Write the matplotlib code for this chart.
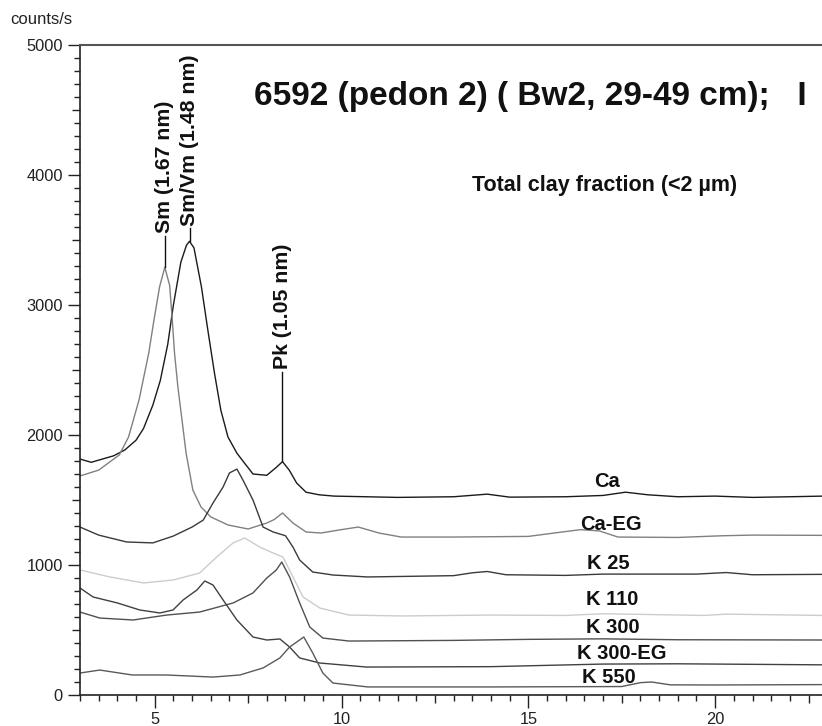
import matplotlib
matplotlib.use("Agg")
import matplotlib.pyplot as plt
from matplotlib.ticker import MultipleLocator, FuncFormatter

# 2-theta (deg) and counts/s, one trace per treatment
x_ca = [3.0, 3.3, 3.6, 3.9, 4.2, 4.5, 4.7, 4.95, 5.15, 5.35, 5.5, 5.7, 5.85, 5.93, 6.05, 6.25,
        6.42, 6.6, 6.77, 6.96, 7.2, 7.4, 7.63, 8.0, 8.25, 8.42, 8.6, 8.8, 9.05, 9.4, 9.8, 11.5,
        13.0, 13.9, 14.5, 16.0, 17.0, 17.6, 18.2, 19.0, 20.0, 21.0, 22.0, 22.9]
y_ca = [1815, 1790, 1815, 1840, 1885, 1960, 2050, 2230, 2420, 2700, 3000, 3330, 3460, 3490, 3440, 3140,
        2810, 2475, 2190, 1985, 1860, 1785, 1700, 1690, 1750, 1795, 1730, 1630, 1560, 1540, 1530, 1520,
        1525, 1545, 1522, 1525, 1535, 1560, 1540, 1525, 1530, 1520, 1525, 1530]

x_caeg = [3.0, 3.5, 4.05, 4.3, 4.58, 4.84, 4.98, 5.13, 5.27, 5.4, 5.47, 5.53, 5.62, 5.73, 5.84, 6.02,
          6.24, 6.5, 6.96, 7.5, 8.0, 8.2, 8.42, 8.7, 9.05, 9.45, 9.95, 10.45, 11.0, 11.6, 13.0, 15.0,
          15.8, 16.4, 16.9, 17.4, 19.0, 20.2, 21.0, 22.9]
y_caeg = [1685, 1730, 1846, 1985, 2270, 2630, 2885, 3140, 3290, 3150, 2885, 2630, 2370, 2115, 1860, 1577,
          1446, 1370, 1308, 1277, 1323, 1350, 1400, 1323, 1254, 1246, 1270, 1292, 1246, 1215, 1215, 1220,
          1250, 1272, 1262, 1215, 1212, 1225, 1230, 1228]

x_k25 = [3.0, 3.5, 4.25, 4.95, 5.5, 6.0, 6.3, 6.56, 6.83, 7.0, 7.2, 7.36, 7.63, 7.9, 8.17, 8.5,
         8.7, 8.88, 9.23, 9.77, 10.7, 13.0, 13.5, 13.9, 14.4, 16.0, 17.0, 19.5, 20.3, 21.0, 22.9]
y_k25 = [1292, 1230, 1177, 1170, 1223, 1292, 1346, 1477, 1600, 1708, 1738, 1654, 1500, 1292, 1254, 1225,
         1138, 1038, 946, 923, 908, 918, 940, 950, 925, 920, 930, 930, 942, 925, 928]

x_k110 = [3.0, 3.8, 4.7, 5.5, 6.2, 6.66, 7.1, 7.41, 7.81, 8.17, 8.43, 8.7, 8.97, 9.42, 10.2, 11.6,
          14.0, 16.0, 17.0, 19.7, 20.3, 22.9]
y_k110 = [962, 908, 862, 885, 938, 1062, 1170, 1208, 1138, 1092, 1062, 908, 754, 669, 615, 608,
          615, 612, 625, 612, 622, 612]

x_k300 = [3.0, 3.53, 4.42, 5.32, 6.2, 7.1, 7.63, 8.0, 8.25, 8.4, 8.61, 8.88, 9.15, 9.5, 10.2, 13.0,
          15.0, 17.0, 19.0, 22.9]
y_k300 = [638, 592, 577, 615, 638, 708, 785, 900, 960, 1023, 908, 708, 523, 438, 415, 420,
          428, 432, 425, 423]

x_k300eg = [3.0, 3.35, 4.0, 4.6, 5.14, 5.49, 5.76, 6.13, 6.34, 6.56, 6.83, 7.2, 7.63, 8.0, 8.35, 8.61,
            8.88, 9.42, 10.67, 14.0, 17.0, 19.0, 22.9]
y_k300eg = [823, 754, 708, 654, 631, 654, 731, 808, 877, 846, 731, 577, 446, 423, 431, 369,
            285, 246, 215, 218, 238, 240, 232]

x_k550 = [3.0, 3.53, 4.4, 5.3, 6.56, 7.28, 7.9, 8.35, 8.61, 8.99, 9.23, 9.5, 9.77, 10.7, 14.0, 17.5,
          18.0, 18.3, 18.8, 20.0, 22.9]
y_k550 = [169, 192, 154, 154, 138, 154, 208, 285, 369, 446, 323, 169, 92, 62, 62, 65,
          95, 100, 78, 77, 80]

trace_names = ["Ca", "Ca-EG", "K 25", "K 110", "K 300", "K 300-EG", "K 550"]
label_pos = [(17.1, 1640), (17.2, 1310), (17.15, 1015), (17.25, 738), (17.25, 523), (17.5, 323), (17.15, 138)]

# peak markers: (2-theta, top of peak, end of stick, text)
peaks = [(5.27, 3290, 3530, "Sm (1.67 nm)"),
         (5.94, 3490, 3590, "Sm/Vm (1.48 nm)"),
         (8.42, 1800, 2485, "Pk (1.05 nm)")]

xs = [x_ca, x_caeg, x_k25, x_k110, x_k300, x_k300eg, x_k550]
ys = [y_ca, y_caeg, y_k25, y_k110, y_k300, y_k300eg, y_k550]
colors = ["#1a1a1a", "#808080", "#3a3a3a", "#cccccc", "#505050", "#404040", "#5a5a5a"]

plt.rcParams["font.family"] = ["Liberation Sans", "DejaVu Sans"]
narrow = ["Liberation Sans Narrow", "Liberation Sans", "DejaVu Sans"]

fig = plt.figure(figsize=(8.22, 7.26), dpi=100)
ax = fig.add_axes([80 / 822, 31 / 726, 742 / 822, 650 / 726])

for x, y, c in zip(xs, ys, colors):
    ax.plot(x, y, color=c, lw=1.0)

for (lx, ly), name in zip(label_pos, trace_names):
    ax.text(lx, ly, name, ha="center", va="center", fontsize=14.5, fontweight="bold",
            family=narrow, color="#111111")

for px, ytop, yend, txt in peaks:
    ax.plot([px, px], [ytop, yend], color="#111111", lw=1.0)
    ax.text(px, yend + 20, txt, rotation=90, ha="center", va="bottom", fontsize=15.3,
            fontweight="bold", family=narrow, color="#111111")

ax.set_xlim(3, 22.86)
ax.set_ylim(0, 5000)

ax.xaxis.set_major_locator(MultipleLocator(2.5))
ax.xaxis.set_minor_locator(MultipleLocator(0.5))
ax.yaxis.set_major_locator(MultipleLocator(500))
ax.yaxis.set_minor_locator(MultipleLocator(100))
ax.xaxis.set_major_formatter(FuncFormatter(lambda v, p: f"{v:g}" if v % 5 == 0 else ""))
ax.yaxis.set_major_formatter(FuncFormatter(lambda v, p: f"{v:g}" if v % 1000 == 0 else ""))
ax.tick_params(which="major", direction="out", length=9, width=1.0, labelsize=11.8, colors="#222222")
ax.tick_params(which="minor", direction="out", length=4, width=1.0, colors="#222222")

# the 2.5 / 500 steps get a shorter tick than the labelled ones
for tk, loc in zip(ax.xaxis.get_major_ticks(), ax.xaxis.get_majorticklocs()):
    if loc % 5:
        tk.tick1line.set_markersize(6)
for tk, loc in zip(ax.yaxis.get_major_ticks(), ax.yaxis.get_majorticklocs()):
    if loc % 1000:
        tk.tick1line.set_markersize(6)

ax.spines["right"].set_visible(False)
ax.spines["top"].set_color("#555555")
ax.spines["top"].set_linewidth(1.5)
for s in ["left", "bottom"]:
    ax.spines[s].set_color("#222222")
    ax.spines[s].set_linewidth(1.2)

fig.text(10 / 822, 1 - 20 / 726, "counts/s", fontsize=12, ha="left", va="center", color="#222222")
ax.text((254 - 80) / 742, (695 - 97) / 650, "6592 (pedon 2) ( Bw2, 29-49 cm);   I", transform=ax.transAxes,
        fontsize=24, fontweight="bold", ha="left", va="center", color="#111111", clip_on=False)
ax.text((472 - 80) / 742, (695 - 185) / 650, "Total clay fraction (<2 µm)", transform=ax.transAxes,
        fontsize=15.5, fontweight="bold", family=narrow, ha="left", va="center", color="#111111")

fig.savefig("out.png", dpi=100)
